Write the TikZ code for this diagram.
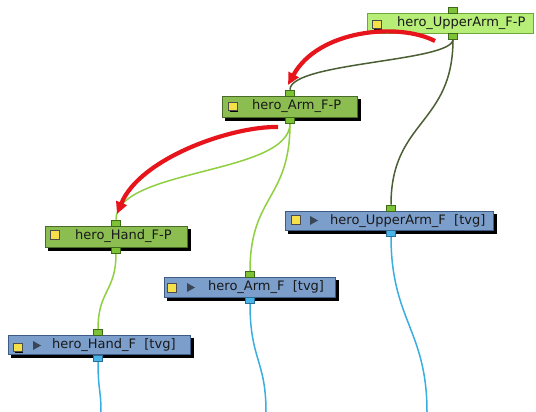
\documentclass[tikz,border=0pt]{standalone}
\usepackage{fontspec}
\setmainfont{DejaVu Sans}
\usetikzlibrary{arrows.meta,backgrounds}
\definecolor{gLight}{HTML}{B6EE78}
\definecolor{gLightDk}{HTML}{6FA83A}
\definecolor{gMid}{HTML}{8BBD50}
\definecolor{gMidDk}{HTML}{4A6B28}
\definecolor{bBox}{HTML}{7C9ECB}
\definecolor{bBoxDk}{HTML}{3C5C86}
\definecolor{yel}{HTML}{F5E04A}
\definecolor{portG}{HTML}{7CC234}
\definecolor{portGDk}{HTML}{3D6A18}
\definecolor{portB}{HTML}{48B4E8}
\definecolor{portBDk}{HTML}{2A6E96}
\definecolor{wireDk}{HTML}{4B5E34}
\definecolor{wireLt}{HTML}{8ED040}
\definecolor{wireB}{HTML}{3AAEE0}
\definecolor{arrRed}{HTML}{E8141C}
\definecolor{triG}{HTML}{3A4656}
\pgfdeclarelayer{shadowlayer}
\pgfsetlayers{background,shadowlayer,main}
\begin{document}
\begin{tikzpicture}[x=1pt,y=-1pt,
  box/.style={draw, line width=0.8pt, inner sep=0, anchor=north west},
  gboxlt/.style={box, fill=gLight, draw=gLightDk},
  gbox/.style={box, fill=gMid, draw=gMidDk},
  bbox/.style={box, fill=bBox, draw=bBoxDk},
  port/.style={draw=portGDk, fill=portG, line width=0.6pt, minimum width=9pt, minimum height=6pt, inner sep=0},
  bport/.style={draw=portBDk, fill=portB, line width=0.6pt, minimum width=9pt, minimum height=6pt, inner sep=0},
  lbl/.style={anchor=west, inner sep=0, text=black!90, font=\fontsize{13}{15}\selectfont},
  icon/.style={draw=black!70, fill=yel, line width=0.5pt, minimum width=8.5pt, minimum height=8.5pt, inner sep=0},
  tri/.style={fill=triG, draw=none},
  wdk/.style={draw=wireDk, line width=1.5pt},
  wlt/.style={draw=wireLt, line width=1.5pt},
  wbl/.style={draw=wireB, line width=1.5pt},
  red arrow/.style={draw=arrRed, line width=4.2pt, -{Triangle[length=12pt,width=11pt]}}
]
\useasboundingbox (0,0) rectangle (536,412);
\begin{pgfonlayer}{background}
\fill[white] (0,0) rectangle (536,412);
\end{pgfonlayer}

% ---------- boxes ----------
\node[gboxlt, minimum width=166pt, minimum height=20pt] (n1) at (367,13) {};
\node[gbox, minimum width=135pt, minimum height=21pt] (n2) at (222,96) {};
\node[gbox, minimum width=142pt, minimum height=21pt] (n3) at (45,226) {};
\node[bbox, minimum width=208pt, minimum height=19pt] (n4) at (285,211) {};
\node[bbox, minimum width=171pt, minimum height=20pt] (n5) at (164,277) {};
\node[bbox, minimum width=182pt, minimum height=19pt] (n6) at (8,335) {};

\begin{pgfonlayer}{shadowlayer}
\foreach \n in {n2,n3,n4,n5,n6}{
  \fill[black] ([shift={(3pt,-3pt)}]\n.south west) rectangle ([shift={(3pt,-3pt)}]\n.north east);
}
\end{pgfonlayer}

% ---------- icons ----------
\foreach \x/\y in {376.5/24.5, 232.5/106.5, 54.5/234.5, 295.5/219.5, 171.5/287.5, 17.5/347}{
  \fill[black] (\x-2.75,\y-2.75) rectangle (\x+5.75,\y+5.75);
}
\foreach \nm/\x/\y in {i1/376.5/24.5, i2/232.5/106.5, i3/54.5/234.5, i4/295.5/219.5, i5/171.5/287.5, i6/17.5/347}{
  \node[icon] (\nm) at (\x,\y) {};
}
\path[tri] (310,216) -- (318,220.5) -- (310,225) -- cycle;
\path[tri] (187,283) -- (195,287.5) -- (187,292) -- cycle;
\path[tri] (33,341) -- (41,345.5) -- (33,350) -- cycle;

% ---------- labels ----------
\node[lbl] (t1) at (397,23.5) {hero\_UpperArm\_F-P};
\node[lbl] (t2) at (252,106.5) {hero\_Arm\_F-P};
\node[lbl] (t3) at (75,236.5) {hero\_Hand\_F-P};
\node[lbl] (t4) at (330,221) {hero\_UpperArm\_F\ \ [tvg]};
\node[lbl] (t5) at (208,287.5) {hero\_Arm\_F\ \ [tvg]};
\node[lbl] (t6) at (52,345.5) {hero\_Hand\_F\ \ [tvg]};

% ---------- ports ----------
\node[port] (p1i) at (453,10) {};
\node[port] (p1o) at (453,36) {};
\node[port] (p2i) at (290,93) {};
\node[port] (p2o) at (290,120) {};
\node[port] (p3i) at (116,223) {};
\node[port] (p3o) at (116,250) {};
\node[port] (p4i) at (391,208) {};
\node[bport] (p4o) at (391,233) {};
\node[port] (p5i) at (250,274.5) {};
\node[bport] (p5o) at (250,300) {};
\node[port] (p6i) at (98,332.5) {};
\node[bport] (p6o) at (98,358) {};

\coordinate (e4) at (427,412);
\coordinate (e5) at (266,412);
\coordinate (e6) at (101,412);

% ---------- wires ----------
\begin{pgfonlayer}{background}
\draw[wdk] (p1o.south) .. controls (453,62) and (290,62) .. (p2i.north);
\draw[wdk] (p1o.south) .. controls (453,125) and (391,120) .. (p4i.north);
\draw[wlt] (p2o.south) .. controls (290,175) and (116,168) .. (p3i.north);
\draw[wlt] (p2o.south) .. controls (290,200) and (250,195) .. (p5i.north);
\draw[wlt] (p3o.south) .. controls (116,292) and (98,290) .. (p6i.north);
\draw[wbl] (p4o.south) .. controls (391,320) and (427,330) .. (e4);
\draw[wbl] (p5o.south) .. controls (250,360) and (266,360) .. (e5);
\draw[wbl] (p6o.south) .. controls (98,390) and (101,390) .. (e6);
\end{pgfonlayer}

% ---------- red arrows ----------
\coordinate (r1s) at (435,41);
\coordinate (r1e) at (288,85);
\coordinate (r2s) at (278,127);
\coordinate (r2e) at (117,214);
\draw[red arrow] (r1s) .. controls (398,22) and (318,30) .. (r1e);
\draw[red arrow] (r2s) .. controls (232,126) and (140,158) .. (r2e);
\end{tikzpicture}
\end{document}
